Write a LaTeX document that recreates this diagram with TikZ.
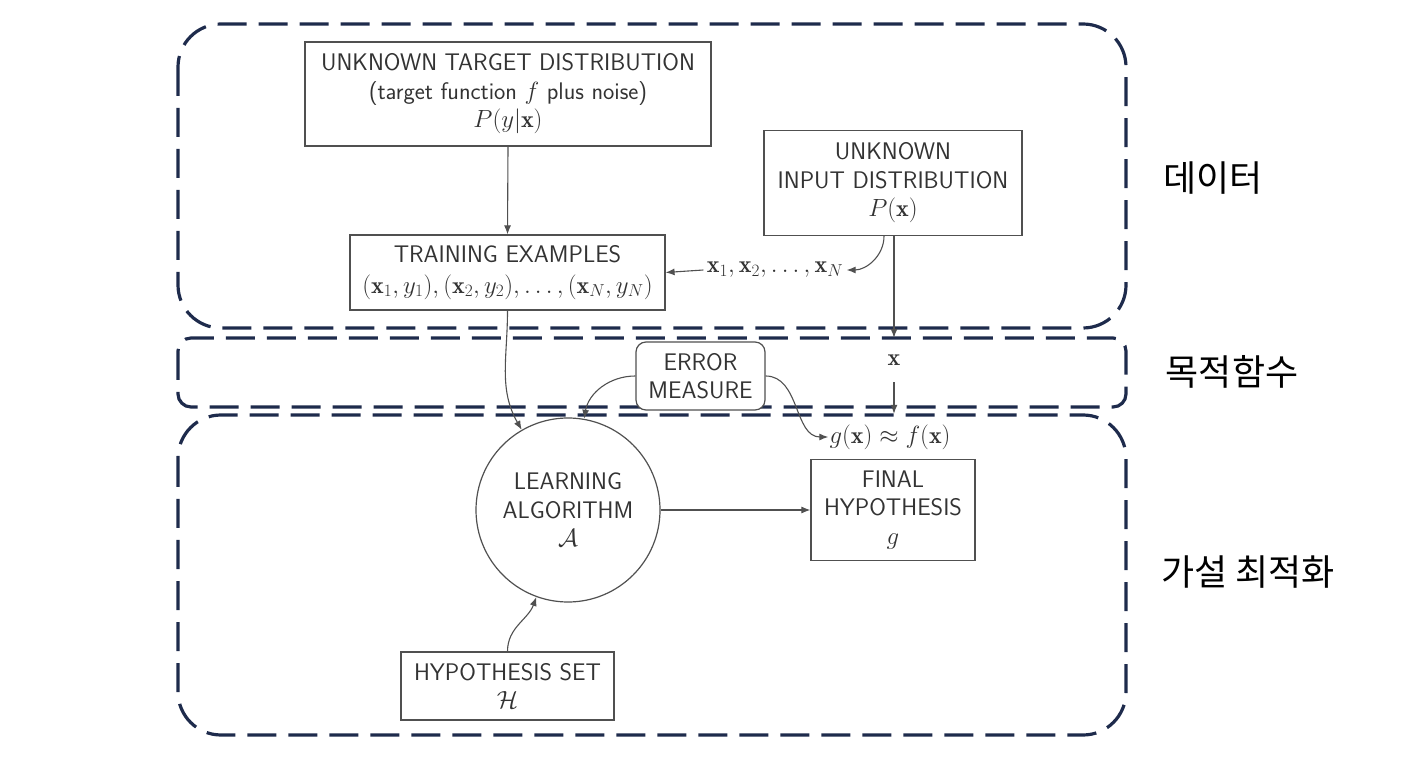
\documentclass[tikz,border=0pt]{standalone}
\usepackage{fontspec}
\usepackage{xcolor}
\usetikzlibrary{arrows.meta, positioning}
\newfontfamily\kofont{Noto Sans CJK KR}
\definecolor{ink}{HTML}{333333}
\definecolor{lineG}{HTML}{505050}
\definecolor{navyD}{HTML}{1E2B4C}
\tikzset{
  label/.style={font=\sffamily\fontsize{24}{28.5}\selectfont, text=ink},
  mathlabel/.style={font=\fontsize{24}{28.5}\selectfont, text=ink},
  korean/.style={font=\kofont\fontsize{36}{40}\selectfont, text=black},
  box/.style={draw=lineG, line width=1.2pt, fill=white, align=center, label},
  roundbox/.style={box, rounded corners=10pt},
  circ/.style={box, circle},
  arr/.style={draw=lineG, line width=1.1pt, -{Latex[length=9pt,width=7pt]}},
  region/.style={draw=navyD, line width=3.2pt, dash pattern=on 29pt off 12pt}
}

\begin{document}
\begin{tikzpicture}[x=1pt,y=1pt]
\useasboundingbox (0,0) rectangle (1418,758);

% regions
\draw[region, rounded corners=43pt] (178,734) rectangle (1126,430);
\draw[region, rounded corners=13pt] (178,420) rectangle (1126,351);
\draw[region, rounded corners=43pt] (178,343) rectangle (1126,23);

\node[korean] (kdata) at (1213,580) {데이터};
\node[korean] (kobj) at (1232,386) {목적함수};
\node[korean] (khyp) at (1248,186) {가설 최적화};

% nodes
\node[box, minimum width=406pt, minimum height=104pt] (target) at (508,664) {
UNKNOWN TARGET DISTRIBUTION\\
(target function $f$ plus noise)\\
$P(y|\mathbf{x})$};

\node[box, minimum width=258pt, minimum height=105pt] (input) at (893,575) {
UNKNOWN\\
INPUT DISTRIBUTION\\
$P(\mathbf{x})$};

\node[box, minimum width=315pt, minimum height=75pt] (train) at (507.5,485.5) {
TRAINING EXAMPLES\\[2pt]
$(\mathbf{x}_1,y_1),(\mathbf{x}_2,y_2),\dots,(\mathbf{x}_N,y_N)$};

\node[mathlabel] (xs) at (775,488) {$\mathbf{x}_1,\mathbf{x}_2,\dots,\mathbf{x}_N$};
\node[mathlabel, minimum height=44pt] (xlab) at (894,398) {$\mathbf{x}$};

\node[roundbox, minimum width=129pt, minimum height=68pt] (err) at (700.5,382) {
ERROR\\
MEASURE};

\node[mathlabel, minimum height=46pt, inner sep=1pt] (gfx) at (890,321) {$g(\mathbf{x})\approx f(\mathbf{x})$};

\node[circ, minimum size=184pt] (learn) at (568,248) {
LEARNING\\
ALGORITHM\\
$\mathcal{A}$};

\node[box, minimum width=164pt, minimum height=101pt] (final) at (893,248) {
FINAL\\
HYPOTHESIS\\
$g$};

\node[box, minimum width=213pt, minimum height=68pt] (hypset) at (507.5,72) {
HYPOTHESIS SET\\
$\mathcal{H}$};

% connectors
\draw[arr] (target.south) -- (train.north);
\draw[arr] ([xshift=-9pt]input.south) to[out=-90,in=0] (xs.east);
\draw[arr] (xs.west) -- (train.east);
\draw[arr] ([xshift=1pt]input.south) -- (xlab.north);
\draw[arr] (xlab.south) -- (xlab.south |- gfx.north);
\draw[arr] (train.south) to[out=-90,in=120] (learn.120);
\draw[arr] (err.west) to[out=180,in=80] (learn.80);
\draw[arr] (err.east) to[out=0,in=180] (gfx.west);
\draw[arr] (learn.east) -- (final.west);
\draw[arr] (hypset.north) to[out=90,in=250] (learn.250);

\end{tikzpicture}
\end{document}
